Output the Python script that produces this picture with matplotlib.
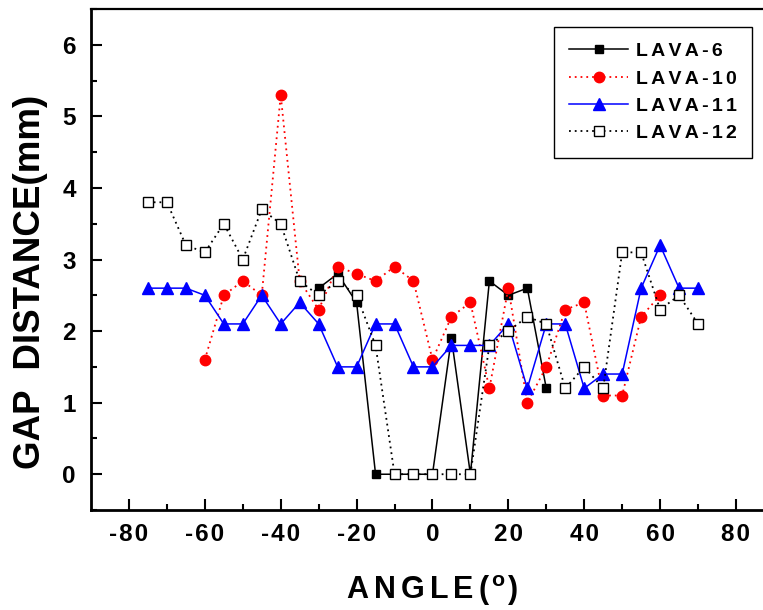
import matplotlib
matplotlib.use('Agg')
import matplotlib.pyplot as plt
from matplotlib.ticker import FuncFormatter

plt.rcParams['font.family'] = ['Liberation Sans', 'DejaVu Sans']
plt.rcParams['font.weight'] = 'bold'
plt.rcParams['mathtext.fontset'] = 'custom'
plt.rcParams['mathtext.rm'] = 'Liberation Sans:bold'
plt.rcParams['mathtext.bf'] = 'Liberation Sans:bold'
plt.rcParams['axes.unicode_minus'] = False

# data
angle_6 = [-30, -25, -20, -15, -10, -5, 0, 5, 10, 15, 20, 25, 30]
lava_6 = [2.6, 2.8, 2.4, 0, 0, 0, 0, 1.9, 0, 2.7, 2.5, 2.6, 1.2]

angle_10 = [-60, -55, -50, -45, -40, -35, -30, -25, -20, -15, -10, -5, 0,
            5, 10, 15, 20, 25, 30, 35, 40, 45, 50, 55, 60]
lava_10 = [1.6, 2.5, 2.7, 2.5, 5.3, 2.7, 2.3, 2.9, 2.8, 2.7, 2.9, 2.7, 1.6,
           2.2, 2.4, 1.2, 2.6, 1.0, 1.5, 2.3, 2.4, 1.1, 1.1, 2.2, 2.5]

angle_11 = [-75, -70, -65, -60, -55, -50, -45, -40, -35, -30, -25, -20, -15,
            -10, -5, 0, 5, 10, 15, 20, 25, 30, 35, 40, 45, 50, 55, 60, 65, 70]
lava_11 = [2.6, 2.6, 2.6, 2.5, 2.1, 2.1, 2.5, 2.1, 2.4, 2.1, 1.5, 1.5, 2.1,
           2.1, 1.5, 1.5, 1.8, 1.8, 1.8, 2.1, 1.2, 2.1, 2.1, 1.2, 1.4, 1.4,
           2.6, 3.2, 2.6, 2.6]

angle_12 = angle_11
lava_12 = [3.8, 3.8, 3.2, 3.1, 3.5, 3.0, 3.7, 3.5, 2.7, 2.5, 2.7, 2.5, 1.8,
           0, 0, 0, 0, 0, 1.8, 2.0, 2.2, 2.1, 1.2, 1.5, 1.2, 3.1, 3.1, 2.3,
           2.5, 2.1]

series_names = ['LAVA-6', 'LAVA-10', 'LAVA-11', 'LAVA-12']
x_ticks = [-80, -60, -40, -20, 0, 20, 40, 60, 80]
y_ticks = [0, 1, 2, 3, 4, 5, 6]

HAIR = '\u200a'


def spaced(s, gap=HAIR):
    # the original uses letter-spaced text
    return gap.join(s)


fig = plt.figure(figsize=(7.63, 6.1), dpi=100)
ax = fig.add_axes([0.1193, 0.1639, 0.895, 0.8213])

dots = (0, (1, 2.2))
leg_gap = HAIR * 2
ax.plot(angle_6, lava_6, color='black', lw=1.1, marker='s', ms=6,
        mfc='black', mec='black', label=spaced(series_names[0], leg_gap))
ax.plot(angle_10, lava_10, color='red', lw=1.3, ls=dots, marker='o', ms=7.5,
        mfc='red', mec='red', label=spaced(series_names[1], leg_gap))
ax.plot(angle_11, lava_11, color='blue', lw=1.1, marker='^', ms=8,
        mfc='blue', mec='blue', label=spaced(series_names[2], leg_gap))
ax.plot(angle_12, lava_12, color='black', lw=1.3, ls=dots, marker='s', ms=6.5,
        mfc='white', mec='black', mew=1.0, label=spaced(series_names[3], leg_gap))

ax.set_xlim(-90, 90)
ax.set_ylim(-0.5, 6.5)
ax.set_xticks(x_ticks)
ax.set_xticks(range(-70, 90, 20), minor=True)
ax.set_yticks(y_ticks)
ax.set_yticks([y + 0.5 for y in range(-1, 7)], minor=True)
fmt = FuncFormatter(lambda v, p: spaced(f'{v:.0f}'))
ax.xaxis.set_major_formatter(fmt)
ax.yaxis.set_major_formatter(fmt)
ax.tick_params(which='both', direction='in', width=1.5, labelsize=17.5,
               top=False, right=False)
ax.tick_params(axis='x', pad=9)
ax.tick_params(axis='y', pad=11)
ax.tick_params(which='major', length=8)
ax.tick_params(which='minor', length=4.5)

for side in ['left', 'bottom']:
    ax.spines[side].set_linewidth(2)
ax.spines['top'].set_linewidth(1.6)

ax.set_xlabel(spaced('ANGLE', HAIR * 2) + HAIR * 2 + '(' + HAIR + '$^{\\mathbf{o}}$' + HAIR + ')',
              fontsize=22, fontweight='bold', labelpad=20)
ax.set_ylabel('GAP  DISTANCE(mm)', fontsize=26.5, fontweight='bold')
ax.yaxis.set_label_coords(-0.063, 0.455)

leg = ax.legend(loc='upper right', bbox_to_anchor=(752 / 763, 1 - 27 / 610),
                bbox_transform=fig.transFigure, borderaxespad=0,
                fancybox=False, edgecolor='black', framealpha=1,
                prop={'size': 14, 'weight': 'bold'}, handlelength=3.0,
                labelspacing=0.5, borderpad=0.8, handletextpad=0.4)
leg.get_frame().set_linewidth(1.0)

fig.savefig('out.png', dpi=100)
